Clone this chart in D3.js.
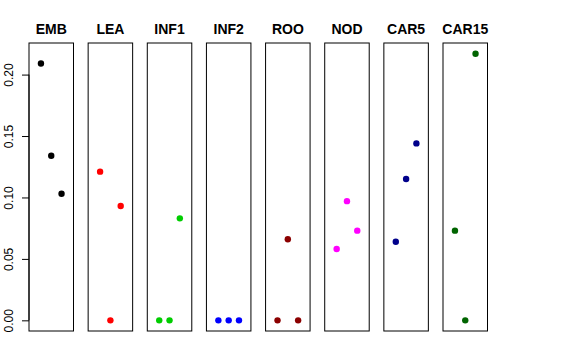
<!DOCTYPE html>
<html>
<head>
<meta charset="utf-8">
<script src="https://cdn.jsdelivr.net/npm/d3@7"></script>
<style>
  body { margin: 0; background: #fff; }
  svg { display: block; }
</style>
</head>
<body>
<script>
// donnees
var groupes = ["EMB", "LEA", "INF1", "INF2", "ROO", "NOD", "CAR5", "CAR15"];
var couleurs = ["#000000", "#FF0000", "#00CD00", "#0000FF", "#8B0000", "#FF00FF", "#00008B", "#006400"];
var val1 = [0.209, 0.121, 0, 0, 0, 0.058, 0.064, 0.073];
var val2 = [0.134, 0, 0, 0, 0.066, 0.097, 0.115, 0];
var val3 = [0.103, 0.093, 0.083, 0, 0, 0.073, 0.144, 0.217];
var yTicks = [0, 0.05, 0.10, 0.15, 0.20];

var width = 576, height = 360;
var top_ = 43, bottom = 331;

var svg = d3.select("body").append("svg")
    .attr("width", width)
    .attr("height", height);

// panneaux
var xband = d3.scaleBand()
    .domain(groupes)
    .range([29, 487.5])
    .paddingInner(0.2476)
    .paddingOuter(0);

var yscale = d3.scaleLinear()
    .domain([-0.00868, 0.2257])
    .range([bottom, top_]);

// position dans un panneau (1, 2, 3)
var xin = d3.scaleLinear()
    .domain([-0.16, 4.16])
    .range([0, xband.bandwidth()]);

var data = [];
groupes.forEach(function (g, i) {
    data.push({ groupe: g, x: 1, y: val1[i], col: couleurs[i] });
    data.push({ groupe: g, x: 2, y: val2[i], col: couleurs[i] });
    data.push({ groupe: g, x: 3, y: val3[i], col: couleurs[i] });
});

// boites
svg.append("g")
    .selectAll("rect")
    .data(groupes)
    .enter()
    .append("rect")
    .attr("x", function (d) { return xband(d); })
    .attr("y", top_)
    .attr("width", xband.bandwidth())
    .attr("height", bottom - top_)
    .style("fill", "none")
    .style("stroke", "#000")
    .style("stroke-width", 1);

// titres
svg.append("g")
    .selectAll("text")
    .data(groupes)
    .enter()
    .append("text")
    .attr("x", function (d) { return xband(d) + xband.bandwidth() / 2; })
    .attr("y", 34)
    .attr("text-anchor", "middle")
    .style("font-family", "Liberation Sans, Arial, sans-serif")
    .style("font-weight", "bold")
    .style("font-size", "14px")
    .text(function (d) { return d; });

// axe y
var y_axis = d3.axisLeft()
    .scale(yscale)
    .tickValues(yTicks)
    .tickSize(7)
    .tickFormat(d3.format(".2f"));

var gy = svg.append("g")
    .attr("transform", "translate(29, 0)")
    .call(y_axis);

gy.select(".domain")
    .attr("d", "M0," + yscale(0) + "V" + yscale(0.2))
    .style("stroke", "#000");
gy.selectAll(".tick line").style("stroke", "#000");
gy.selectAll(".tick text")
    .attr("x", null)
    .attr("dy", null)
    .attr("transform", "translate(-16,0) rotate(-90)")
    .attr("text-anchor", "middle")
    .style("font-family", "Liberation Sans, Arial, sans-serif")
    .style("font-size", "12px")
    .style("fill", "#000");

// points
svg.append("g")
    .selectAll("circle")
    .data(data)
    .enter()
    .append("circle")
    .attr("cx", function (d) { return xband(d.groupe) + xin(d.x); })
    .attr("cy", function (d) { return yscale(d.y); })
    .attr("r", 3.2)
    .style("fill", function (d) { return d.col; });
</script>
</body>
</html>
